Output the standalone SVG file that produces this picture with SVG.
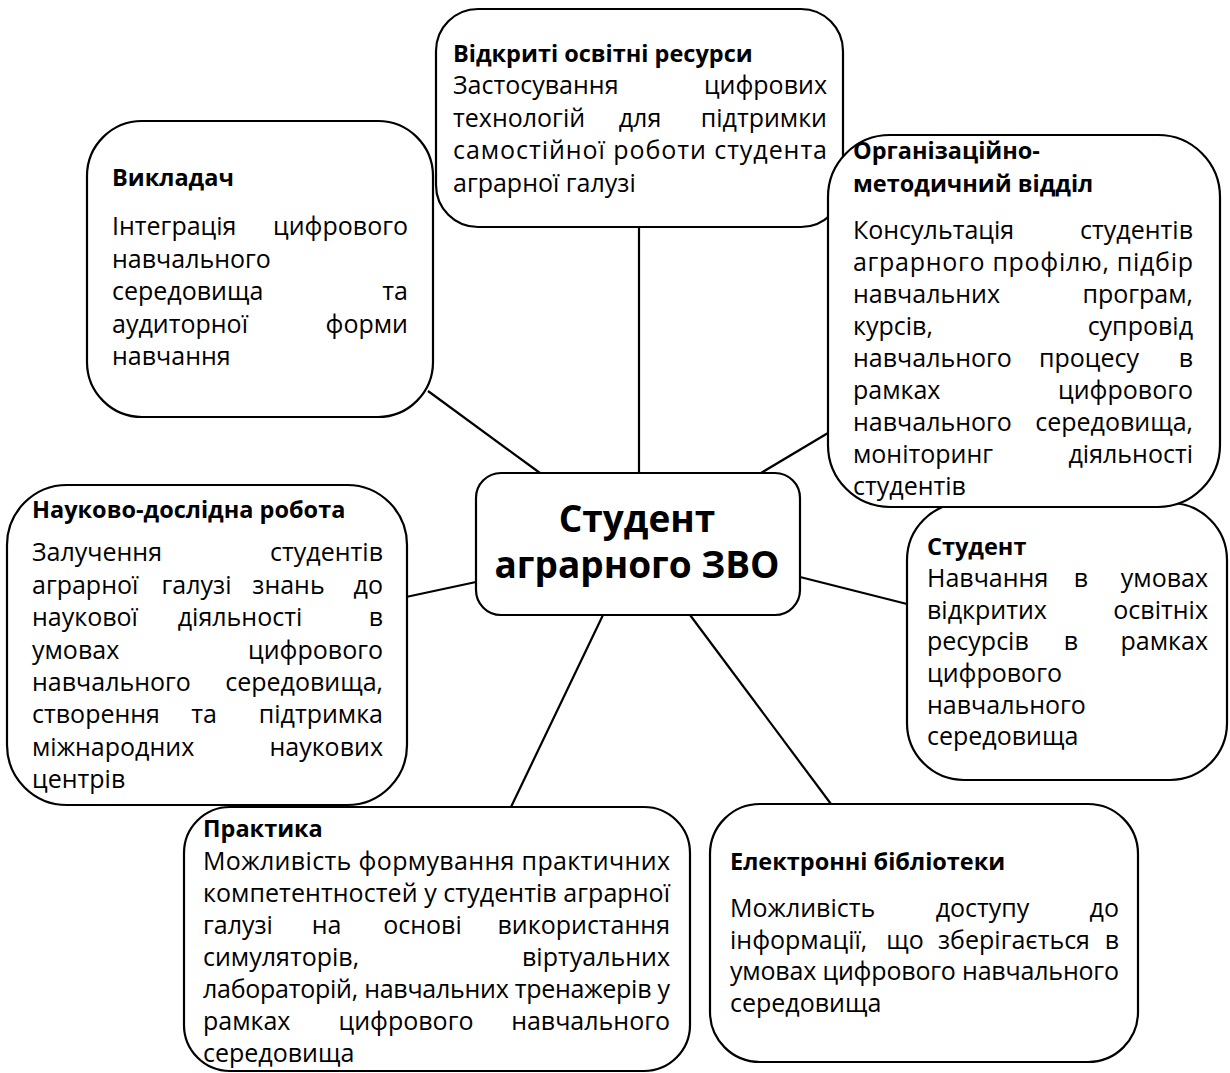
<svg xmlns="http://www.w3.org/2000/svg" width="1230" height="1073" viewBox="0 0 1230 1073">
<style>
.box{fill:#fff;stroke:#000;stroke-width:2.2}
.conn line{stroke:#000;stroke-width:2.2}
text{font-family:"Open Sans","Noto Sans","DejaVu Sans",sans-serif;font-size:25px;fill:#000}
.b{font-weight:bold;font-size:23.5px}
.e{text-anchor:end}
.m{text-anchor:middle}
.c{text-anchor:middle;font-size:37px;font-weight:bold}
</style>
<rect width="1230" height="1073" fill="#fff"/>
<g class="conn" id="connectors">
<line x1="639" y1="227" x2="639" y2="473"/>
<line x1="428" y1="391" x2="540" y2="473"/>
<line x1="828" y1="433" x2="761" y2="473"/>
<line x1="406" y1="597" x2="476" y2="582"/>
<line x1="800" y1="577" x2="907" y2="604"/>
<line x1="603" y1="615" x2="511" y2="807"/>
<line x1="690" y1="615" x2="831" y2="804"/>
</g>
<g id="n-resources">
<rect class="box" x="436" y="9" width="407" height="218" rx="42"/>
<text class="b" x="453" y="62">Відкриті освітні ресурси</text>
<text x="453" y="94">Застосування</text><text class="e" x="827" y="94">цифрових</text>
<text x="453" y="126.5">технологій</text><text class="m" x="640" y="126.5">для</text><text class="e" x="827" y="126.5">підтримки</text>
<text x="453" y="159" textLength="374" lengthAdjust="spacing">самостійної роботи студента</text>
<text x="453" y="191.5">аграрної галузі</text>
</g>
<g id="n-teacher">
<rect class="box" x="87" y="121" width="346" height="296" rx="55"/>
<text class="b" x="112" y="186">Викладач</text>
<text x="112" y="235">Інтеграція</text><text class="e" x="408" y="235">цифрового</text>
<text x="112" y="267.5">навчального</text>
<text x="112" y="300">середовища</text><text class="e" x="408" y="300">та</text>
<text x="112" y="332.5">аудиторної</text><text class="e" x="408" y="332.5">форми</text>
<text x="112" y="365">навчання</text>
</g>
<g id="n-student">
<rect class="box" x="907" y="503" width="320" height="277" rx="57"/>
<text class="b" x="927" y="555">Студент</text>
<text x="927" y="587">Навчання</text><text class="m" x="1081" y="587">в</text><text class="e" x="1208" y="587">умовах</text>
<text x="927" y="618.5">відкритих</text><text class="e" x="1208" y="618.5">освітніх</text>
<text x="927" y="650">ресурсів</text><text class="m" x="1071" y="650">в</text><text class="e" x="1208" y="650">рамках</text>
<text x="927" y="682">цифрового</text>
<text x="927" y="713.5">навчального</text>
<text x="927" y="745">середовища</text>
</g>
<g id="n-method">
<rect class="box" x="828" y="135" width="392" height="372" rx="62"/>
<text class="b" x="853" y="158.5">Організаційно-</text>
<text class="b" x="853" y="192">методичний відділ</text>
<text x="853" y="238.5">Консультація</text><text class="e" x="1193" y="238.5">студентів</text>
<text x="853" y="270.5" textLength="340" lengthAdjust="spacing">аграрного профілю, підбір</text>
<text x="853" y="302.5">навчальних</text><text class="e" x="1193" y="302.5">програм,</text>
<text x="853" y="334.5">курсів,</text><text class="e" x="1193" y="334.5">супровід</text>
<text x="853" y="366.5">навчального</text><text class="m" x="1089" y="366.5">процесу</text><text class="e" x="1193" y="366.5">в</text>
<text x="853" y="398.5">рамках</text><text class="e" x="1193" y="398.5">цифрового</text>
<text x="853" y="430.5">навчального</text><text class="e" x="1193" y="430.5">середовища,</text>
<text x="853" y="462.5">моніторинг</text><text class="e" x="1193" y="462.5">діяльності</text>
<text x="853" y="494.5">студентів</text>
</g>
<g id="n-center">
<rect class="box" x="476" y="473" width="324" height="142" rx="25"/>
<text class="c" x="637" y="532">Студент</text>
<text class="c" x="637" y="578">аграрного ЗВО</text>
</g>
<g id="n-research">
<rect class="box" x="7" y="485" width="400" height="320" rx="60"/>
<text class="b" x="32" y="518">Науково-дослідна робота</text>
<text x="32" y="561">Залучення</text><text class="e" x="383" y="561">студентів</text>
<text x="32" y="593.5">аграрної</text><text class="m" x="196.5" y="593.5">галузі</text><text class="m" x="288.5" y="593.5">знань</text><text class="e" x="383" y="593.5">до</text>
<text x="32" y="626">наукової</text><text class="m" x="240" y="626">діяльності</text><text class="e" x="383" y="626">в</text>
<text x="32" y="658.5">умовах</text><text class="e" x="383" y="658.5">цифрового</text>
<text x="32" y="691">навчального</text><text class="e" x="383" y="691">середовища,</text>
<text x="32" y="723">створення</text><text class="m" x="204" y="723">та</text><text class="e" x="383" y="723">підтримка</text>
<text x="32" y="755.5">міжнародних</text><text class="e" x="383" y="755.5">наукових</text>
<text x="32" y="788">центрів</text>
</g>
<g id="n-practice">
<rect class="box" x="184" y="807" width="506" height="264" rx="46"/>
<text class="b" x="203" y="837">Практика</text>
<text x="203" y="870" textLength="467" lengthAdjust="spacing">Можливість формування практичних</text>
<text x="203" y="902" textLength="467" lengthAdjust="spacing">компетентностей у студентів аграрної</text>
<text x="203" y="934">галузі</text><text class="m" x="326.5" y="934">на</text><text class="m" x="422.5" y="934">основі</text><text class="e" x="670" y="934">використання</text>
<text x="203" y="966">симуляторів,</text><text class="e" x="670" y="966">віртуальних</text>
<text x="203" y="998" textLength="467" lengthAdjust="spacing">лабораторій, навчальних тренажерів у</text>
<text x="203" y="1030">рамках</text><text class="m" x="406" y="1030">цифрового</text><text class="e" x="670" y="1030">навчального</text>
<text x="203" y="1062">середовища</text>
</g>
<g id="n-library">
<rect class="box" x="710" y="804" width="428" height="258" rx="50"/>
<text class="b" x="730" y="870">Електронні бібліотеки</text>
<text x="730" y="917">Можливість</text><text class="m" x="982.5" y="917">доступу</text><text class="e" x="1119" y="917">до</text>
<text x="730" y="948.5">інформації,</text><text class="m" x="905" y="948.5">що</text><text class="m" x="1014" y="948.5">зберігається</text><text class="e" x="1119" y="948.5">в</text>
<text x="730" y="980" textLength="389" lengthAdjust="spacing">умовах цифрового навчального</text>
<text x="730" y="1012">середовища</text>
</g>
</svg>
